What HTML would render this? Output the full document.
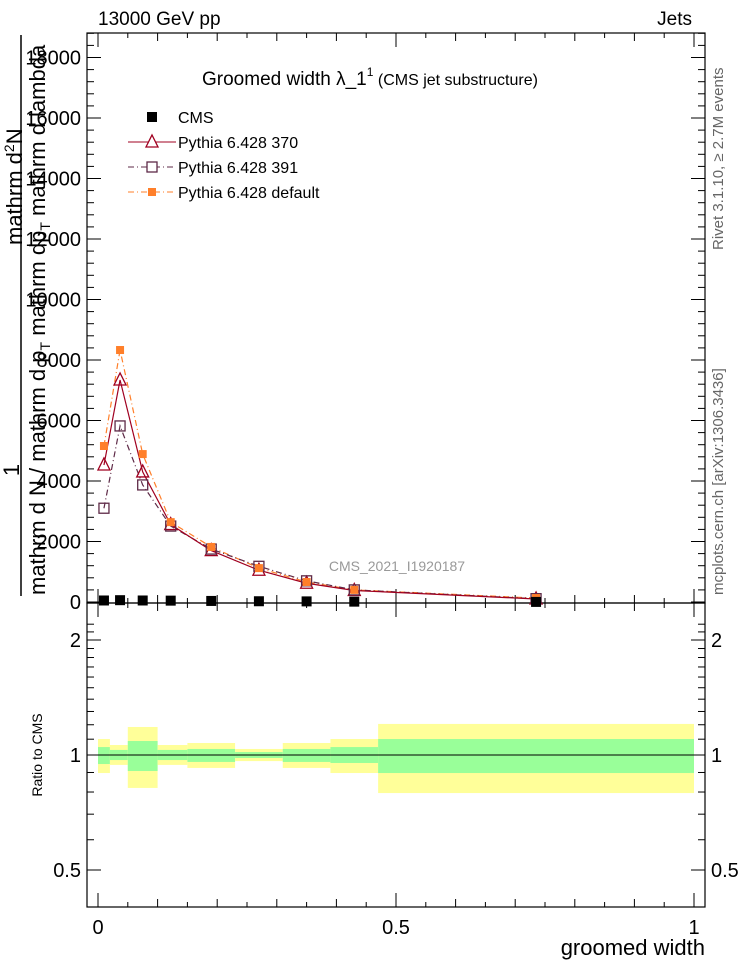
<!DOCTYPE html>
<html><head><meta charset="utf-8"><style>
body{margin:0;background:#fff}
svg{font-family:"Liberation Sans",Arial,sans-serif}
</style></head><body>
<svg id="chart" width="746" height="972" viewBox="0 0 746 972" xmlns="http://www.w3.org/2000/svg">
<g id="g"></g>
</svg>
<script>
const binEdges=[0,0.02,0.05,0.1,0.15,0.23,0.31,0.39,0.47,1.0];
const binCenters=[0.01,0.037,0.075,0.122,0.19,0.27,0.35,0.43,0.735];
const cmsValues=[50,60,50,45,35,25,20,12,3];
const py370=[4530,7340,4300,2560,1700,1050,620,380,100];
const py391=[3100,5820,3870,2510,1750,1180,700,400,110];
const pyDef=[5157,8330,4890,2640,1820,1120,660,400,130];
const statHi=[1.049,1.031,1.088,1.031,1.037,1.018,1.037,1.049,1.101];
const statLo=[0.947,0.970,0.908,0.970,0.959,0.982,0.959,0.953,0.897];
const totHi=[1.101,1.062,1.184,1.062,1.075,1.037,1.075,1.101,1.206];
const totLo=[0.897,0.942,0.820,0.942,0.925,0.964,0.925,0.897,0.795];
const yTicks=[0,2000,4000,6000,8000,10000,12000,14000,16000,18000];
const rTicks=[0.5,1,2];

const NS="http://www.w3.org/2000/svg";
const g=document.getElementById('g');
function el(t,a,txt){const e=document.createElementNS(NS,t);for(const k in a)e.setAttribute(k,a[k]);if(txt!==undefined)e.textContent=txt;g.appendChild(e);return e;}
const L=87,R=705,T=33,MB=603,RB=907;
const X=v=>98+v*596;
const Y=v=>602-v*0.03025;
const RY=v=>755-Math.log10(v)*382;

for(let i=0;i<binCenters.length;i++){
  let e=el('rect',{x:X(binEdges[i]),y:RY(totHi[i]),width:X(binEdges[i+1])-X(binEdges[i]),height:RY(totLo[i])-RY(totHi[i]),fill:'#ffff99'});
  
  
  e=el('rect',{x:X(binEdges[i]),y:RY(statHi[i]),width:X(binEdges[i+1])-X(binEdges[i]),height:RY(statLo[i])-RY(statHi[i]),fill:'#99ff99'});
  
  
}
let ln=el('line',{x1:X(0),x2:X(1),y1:RY(1),y2:RY(1),stroke:'#000','stroke-width':1});



let f=el('rect',{x:L,y:T,width:R-L,height:MB-T,fill:'none',stroke:'#000','stroke-width':1.2});

f=el('rect',{x:L,y:MB,width:R-L,height:RB-MB,fill:'none',stroke:'#000','stroke-width':1.2});


for(let k=0;k<=20;k++){const v=k*0.05;const big=k%10===0;const med=k%2===0;const h=big?14:(med?8:5);
 [MB,RB].forEach(b=>el('line',{x1:X(v),x2:X(v),y1:b,y2:b-h,stroke:'#000'}));
 [T,MB].forEach(t=>el('line',{x1:X(v),x2:X(v),y1:t,y2:t+h,stroke:'#000'}));}
[[0,'0'],[0.5,'0.5'],[1,'1']].forEach(([v,s])=>{const t=el('text',{x:X(v),y:934,'font-size':20,'text-anchor':'middle'},s);});
let xt=el('text',{x:705,y:955,'font-size':22,'text-anchor':'end'},'groomed width');


for(let v=0;v<=18800;v+=400){const y=Y(v);if(y<T)break;const big=v%2000===0;const h=big?14:7;
 el('line',{x1:L,x2:L+h,y1:y,y2:y,stroke:'#000'});el('line',{x1:R,x2:R-h,y1:y,y2:y,stroke:'#000'});}
yTicks.forEach(v=>{const t=el('text',{x:81,y:Y(v)+7,'font-size':20,'text-anchor':'end'},String(v));});
for(let v=0.4;v<=2.3;v+=0.1){const y=RY(v);if(y<MB||y>RB)continue;const big=[0.5,1,2].some(a=>Math.abs(a-v)<1e-6);const h=big?14:7;
 el('line',{x1:L,x2:L+h,y1:y,y2:y,stroke:'#000'});el('line',{x1:R,x2:R-h,y1:y,y2:y,stroke:'#000'});}
rTicks.forEach(v=>{[[81,'end'],[711,'start']].forEach(([x,a])=>{const t=el('text',{x:x,y:RY(v)+7,'font-size':20,'text-anchor':a},String(v));});});

function line(vals,color,dash,name){const pts=binCenters.map((c,i)=>X(c)+','+Y(vals[i])).join(' ');
 const p=el('polyline',{points:pts,fill:'none',stroke:color,'stroke-width':1.2,'stroke-dasharray':dash});}
line(pyDef,'#ff7f2a','6,3,1,3','line-pythia-default');
line(py391,'#5e2a47','6,3,1,3','line-pythia-391');
line(py370,'#a00020','','line-pythia-370');
binCenters.forEach((c,i)=>{
 let m=el('path',{d:`M${X(c)-6},${Y(py370[i])+5} L${X(c)+6},${Y(py370[i])+5} L${X(c)},${Y(py370[i])-7} Z`,fill:'none',stroke:'#a00020','stroke-width':1.3});
 
 m=el('rect',{x:X(c)-5,y:Y(py391[i])-5,width:10,height:10,fill:'none',stroke:'#5e2a47','stroke-width':1.3});
 
 m=el('rect',{x:X(c)-4,y:Y(pyDef[i])-4,width:8,height:8,fill:'#ff7f2a'});
 
 m=el('rect',{x:X(c)-5,y:Y(cmsValues[i])-5,width:10,height:10,fill:'#000'});
 
});

const leg=[['CMS','cms'],['Pythia 6.428 370','370'],['Pythia 6.428 391','391'],['Pythia 6.428 default','def']];
leg.forEach((d,i)=>{const y=117+i*25;
 if(d[1]==='cms'){el('rect',{x:147,y:y-5,width:10,height:10,fill:'#000'});}
 if(d[1]==='370'){el('line',{x1:128,x2:176,y1:y,y2:y,stroke:'#a00020'});el('path',{d:`M${146},${y+5} L${158},${y+5} L${152},${y-7} Z`,fill:'#fff',stroke:'#a00020','stroke-width':1.3});}
 if(d[1]==='391'){el('line',{x1:128,x2:176,y1:y,y2:y,stroke:'#5e2a47','stroke-dasharray':'6,3,1,3'});el('rect',{x:147,y:y-5,width:10,height:10,fill:'#fff',stroke:'#5e2a47','stroke-width':1.3});}
 if(d[1]==='def'){el('line',{x1:128,x2:176,y1:y,y2:y,stroke:'#ff7f2a','stroke-dasharray':'6,3,1,3'});el('rect',{x:148,y:y-4,width:8,height:8,fill:'#ff7f2a'});}
 const t=el('text',{x:178,y:y+6,'font-size':16},d[0]);
});
</script>
<svg width="746" height="972" style="position:absolute;left:0;top:0;pointer-events:none" xmlns="http://www.w3.org/2000/svg" font-family="Liberation Sans, Arial, sans-serif">
<text x="98" y="25" font-size="19">13000 GeV pp</text>
<text x="692" y="25" font-size="19" text-anchor="end">Jets</text>
<text x="202" y="85" font-size="19">Groomed width  λ_1<tspan font-size="12" dy="-9">1</tspan><tspan font-size="16" dy="9"> (CMS jet substructure)</tspan></text>
<text x="397" y="571" font-size="14" fill="#999" text-anchor="middle">CMS_2021_I1920187</text>
<text transform="translate(723,250) rotate(-90)" font-size="15" fill="#666">Rivet 3.1.10, ≥ 2.7M events</text>
<text transform="translate(723,595) rotate(-90)" font-size="15" fill="#666">mcplots.cern.ch [arXiv:1306.3436]</text>
<text transform="translate(42,755) rotate(-90)" font-size="14" text-anchor="middle">Ratio to CMS</text>
<g font-size="22">
<text transform="translate(22,245) rotate(-90)">mathrm d<tspan font-size="14" dy="-8">2</tspan><tspan dy="8">N</tspan></text>
<line x1="21" y1="35" x2="21" y2="596" stroke="#000" stroke-width="1.5"/>
<text transform="translate(19,470) rotate(-90)" text-anchor="middle">1</text>
<text transform="translate(45,595) rotate(-90)">mathrm d N / mathrm d p<tspan font-size="14" dy="5">T</tspan><tspan dy="-5"> mathrm dp</tspan><tspan font-size="14" dy="5">T</tspan><tspan dy="-5"> mathrm d lambda</tspan></text>
</g>
</svg>
</body></html>
